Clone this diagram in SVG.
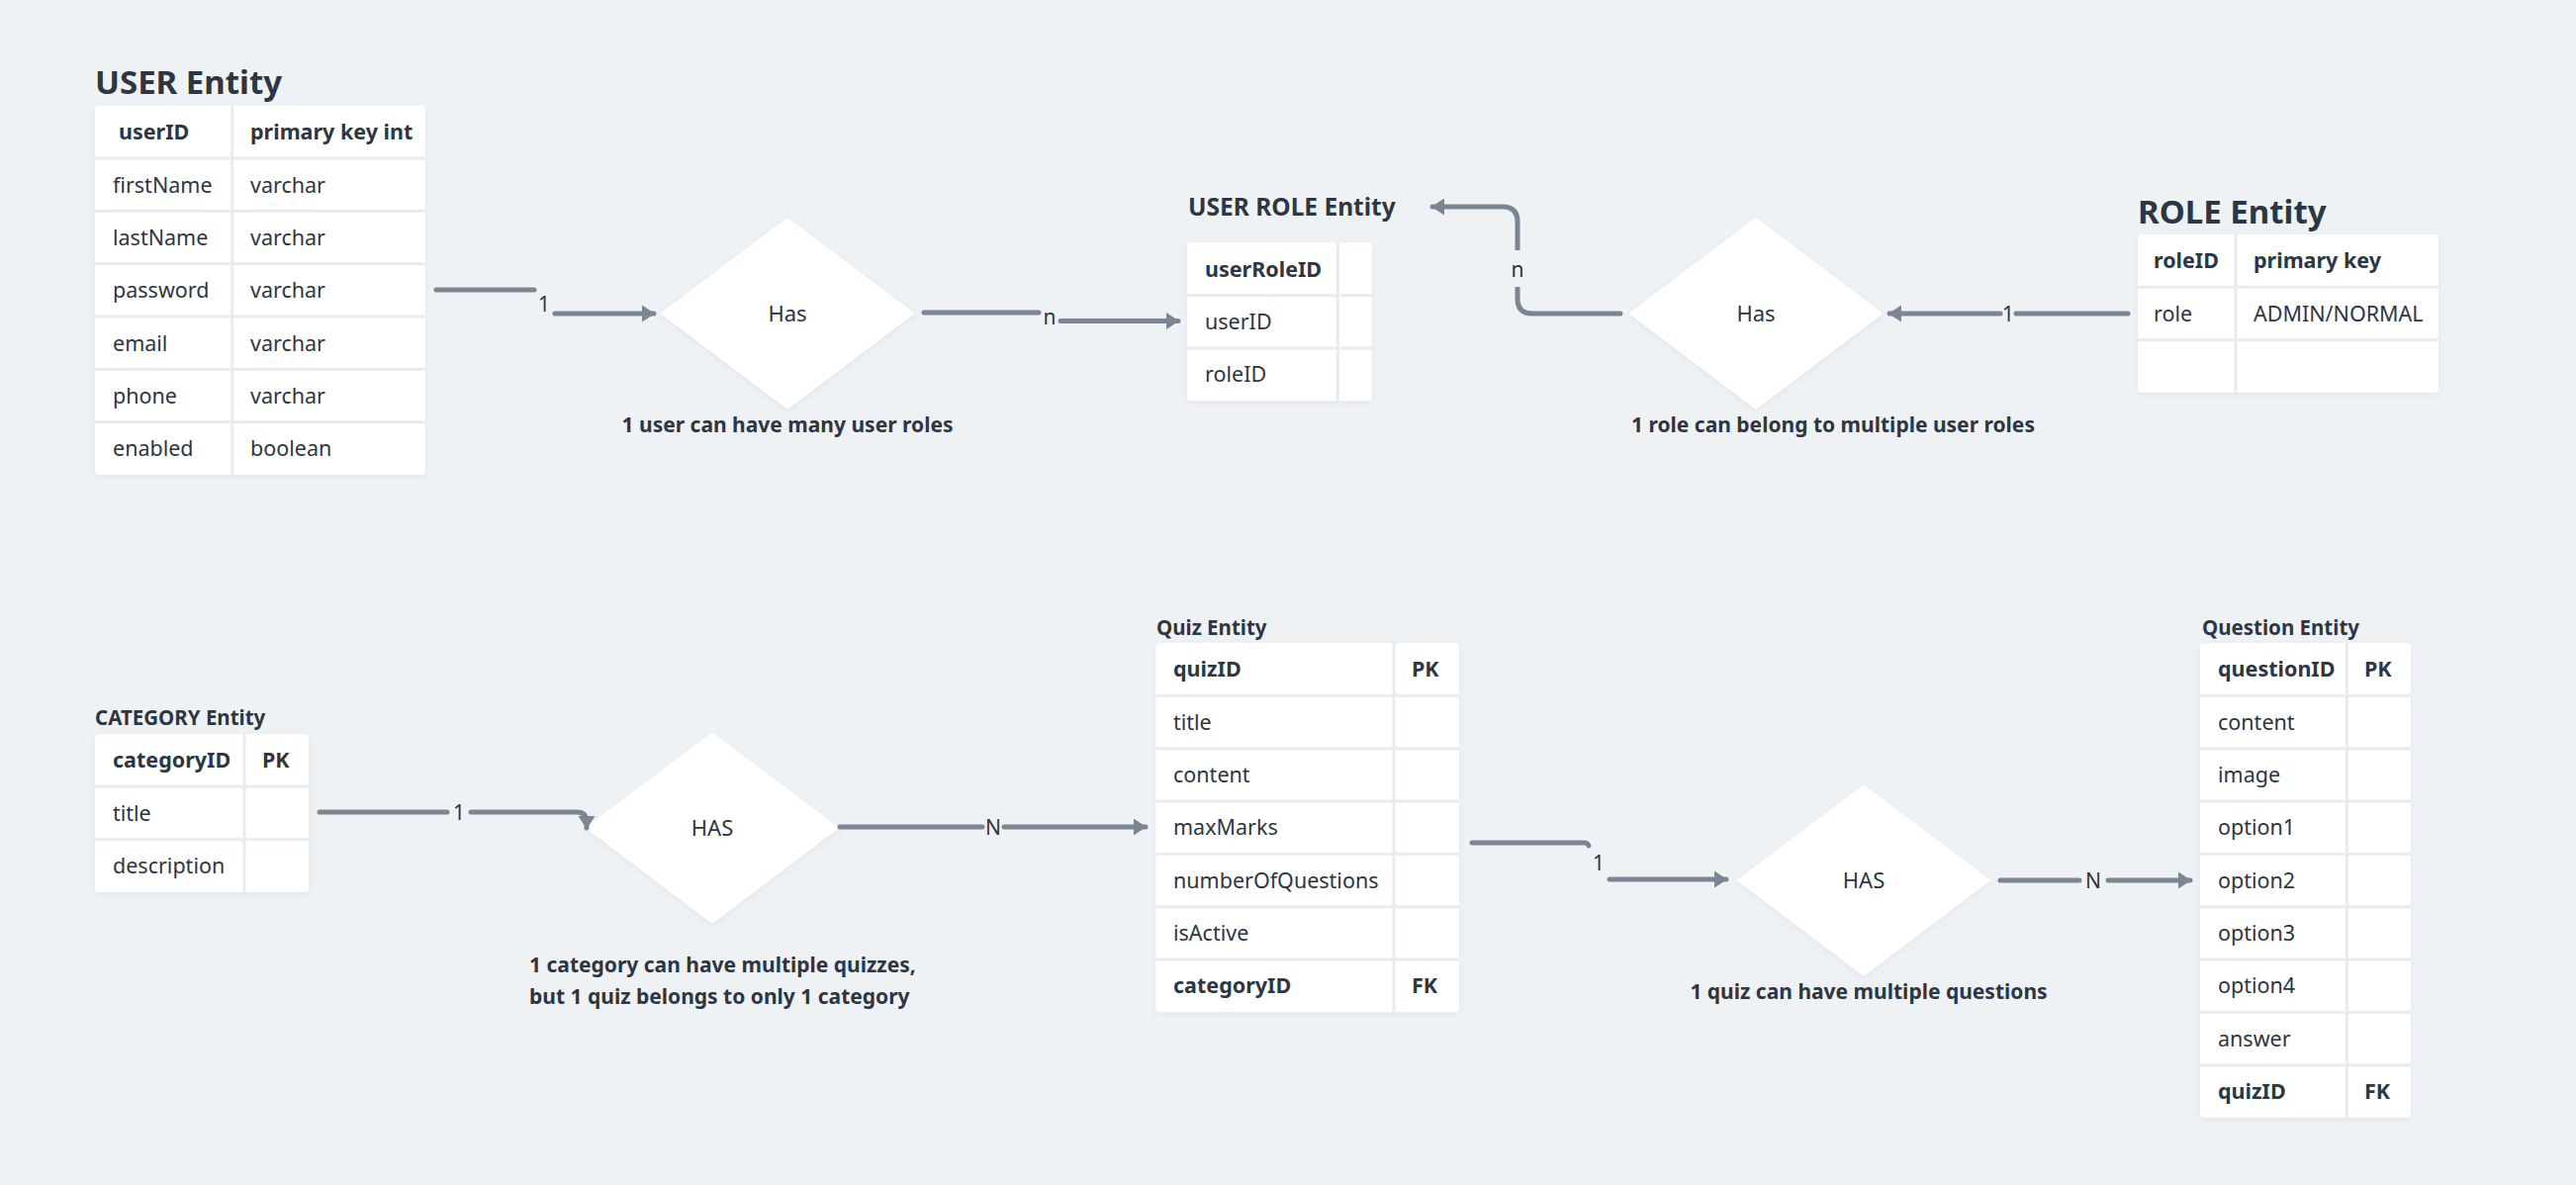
<svg xmlns="http://www.w3.org/2000/svg" width="2604" height="1198" viewBox="0 0 2604 1198">
<defs>
<style>
.bg{fill:#eff2f5}
.tbl{fill:#ffffff;filter:url(#sh)}
.grid{stroke:#e8ebef;stroke-width:3;fill:none}
.t{font-family:"Noto Sans","Liberation Sans",sans-serif;font-size:21.5px;fill:#2d3642}
.b{font-weight:700}
.title{font-family:"Noto Sans","Liberation Sans",sans-serif;font-weight:700;fill:#2d3642}
.cap{font-family:"Noto Sans","Liberation Sans",sans-serif;font-weight:700;font-size:21px;fill:#2d3642}
.dia{fill:#ffffff;stroke:#ffffff;stroke-width:3;stroke-linejoin:round;filter:url(#sh)}
.dt{font-family:"Noto Sans","Liberation Sans",sans-serif;font-size:22px;fill:#2d3642;text-anchor:middle}
.conn{fill:none;stroke:#7b8694;stroke-width:5;stroke-linecap:round;stroke-linejoin:round;marker-end:url(#arr)}
.lbg{fill:#eff2f5}
.lbl{font-family:"Noto Sans","Liberation Sans",sans-serif;font-size:21px;fill:#2d3642;text-anchor:middle}
</style>
<filter id="sh" x="-10%" y="-10%" width="120%" height="125%">
<feDropShadow dx="0" dy="2" stdDeviation="2.5" flood-color="#5a6a80" flood-opacity="0.10"/>
</filter>
<marker id="arr" viewBox="0 0 13 17" refX="12" refY="8.5" markerWidth="13" markerHeight="17" markerUnits="userSpaceOnUse" orient="auto">
<path d="M0,0 L13,8.5 L0,17 z" fill="#7b8694"/>
</marker>
</defs>
<rect class="bg" x="0" y="0" width="2604" height="1198"/>

<g id="user-entity">
<text class="title" x="96" y="95" font-size="33">USER Entity</text>
<rect class="tbl" x="96" y="106.7" width="334" height="373.3" rx="4"/>
<path class="grid" d="M234.7 106.7V480M96 160H430M96 213.3H430M96 266.7H430M96 320H430M96 373.3H430M96 426.7H430"/>
<text class="t b" x="120" y="141">userID</text><text class="t b" x="253" y="141">primary key int</text>
<text class="t" x="114" y="194.5">firstName</text><text class="t" x="253" y="194.5">varchar</text>
<text class="t" x="114" y="248">lastName</text><text class="t" x="253" y="248">varchar</text>
<text class="t" x="114" y="301">password</text><text class="t" x="253" y="301">varchar</text>
<text class="t" x="114" y="354.5">email</text><text class="t" x="253" y="354.5">varchar</text>
<text class="t" x="114" y="408">phone</text><text class="t" x="253" y="408">varchar</text>
<text class="t" x="114" y="461">enabled</text><text class="t" x="253" y="461">boolean</text>
</g>

<g id="has-user-role">
<polygon class="dia" points="670,317 796,222 922,317 796,412"/>
<text class="dt" x="796" y="325">Has</text>
<text class="cap" x="796" y="437" text-anchor="middle">1 user can have many user roles</text>
</g>

<g id="user-role-entity">
<text class="title" x="1201" y="218" font-size="24.5">USER ROLE Entity</text>
<rect class="tbl" x="1200" y="245.3" width="186.7" height="160" rx="4"/>
<path class="grid" d="M1352.3 245.3V405.3M1200 298.7H1386.7M1200 352H1386.7"/>
<text class="t b" x="1218" y="279.5">userRoleID</text>
<text class="t" x="1218" y="333">userID</text>
<text class="t" x="1218" y="386">roleID</text>
</g>

<g id="has-role">
<polygon class="dia" points="1649,317 1775,222 1901,317 1775,412"/>
<text class="dt" x="1775" y="325">Has</text>
<text class="cap" x="1649" y="437">1 role can belong to multiple user roles</text>
</g>

<g id="role-entity">
<text class="title" x="2161" y="226" font-size="33">ROLE Entity</text>
<rect class="tbl" x="2161" y="237" width="304" height="160" rx="4"/>
<path class="grid" d="M2260 237V397M2161 290.3H2465M2161 343.7H2465"/>
<text class="t b" x="2177" y="271">roleID</text><text class="t b" x="2278" y="271">primary key</text>
<text class="t" x="2177" y="324.5">role</text><text class="t" x="2278" y="324.5">ADMIN/NORMAL</text>
</g>

<g id="category-entity">
<text class="title" x="96" y="733" font-size="20.5">CATEGORY Entity</text>
<rect class="tbl" x="96" y="742" width="216" height="160" rx="4"/>
<path class="grid" d="M247 742V902M96 795.3H312M96 848.7H312"/>
<text class="t b" x="114" y="776">categoryID</text><text class="t b" x="265" y="776">PK</text>
<text class="t" x="114" y="829.5">title</text>
<text class="t" x="114" y="883">description</text>
</g>

<g id="has-quiz">
<polygon class="dia" points="594,837 720,742 846,837 720,932"/>
<text class="dt" x="720" y="845">HAS</text>
<text class="cap" x="535" y="983">1 category can have multiple quizzes,</text>
<text class="cap" x="535" y="1015">but 1 quiz belongs to only 1 category</text>
</g>

<g id="quiz-entity">
<text class="title" x="1169" y="642" font-size="20.5">Quiz Entity</text>
<rect class="tbl" x="1168.5" y="650" width="306.5" height="373.3" rx="4"/>
<path class="grid" d="M1409 650V1023.3M1168.5 703.3H1475M1168.5 756.7H1475M1168.5 810H1475M1168.5 863.3H1475M1168.5 916.7H1475M1168.5 970H1475"/>
<text class="t b" x="1186" y="684">quizID</text><text class="t b" x="1427" y="684">PK</text>
<text class="t" x="1186" y="737.5">title</text>
<text class="t" x="1186" y="791">content</text>
<text class="t" x="1186" y="844">maxMarks</text>
<text class="t" x="1186" y="897.5">numberOfQuestions</text>
<text class="t" x="1186" y="951">isActive</text>
<text class="t b" x="1186" y="1004">categoryID</text><text class="t b" x="1427" y="1004">FK</text>
</g>

<g id="has-question">
<polygon class="dia" points="1758,890 1884,795 2010,890 1884,985"/>
<text class="dt" x="1884" y="898">HAS</text>
<text class="cap" x="1889" y="1010" text-anchor="middle">1 quiz can have multiple questions</text>
</g>

<g id="question-entity">
<text class="title" x="2226" y="642" font-size="20.5">Question Entity</text>
<rect class="tbl" x="2224" y="650" width="213" height="480" rx="4"/>
<path class="grid" d="M2372.5 650V1130M2224 703.3H2437M2224 756.7H2437M2224 810H2437M2224 863.3H2437M2224 916.7H2437M2224 970H2437M2224 1023.3H2437M2224 1076.7H2437"/>
<text class="t b" x="2242" y="684">questionID</text><text class="t b" x="2390" y="684">PK</text>
<text class="t" x="2242" y="737.5">content</text>
<text class="t" x="2242" y="791">image</text>
<text class="t" x="2242" y="844">option1</text>
<text class="t" x="2242" y="897.5">option2</text>
<text class="t" x="2242" y="951">option3</text>
<text class="t" x="2242" y="1004">option4</text>
<text class="t" x="2242" y="1057.5">answer</text>
<text class="t b" x="2242" y="1111">quizID</text><text class="t b" x="2390" y="1111">FK</text>
</g>

<g id="connectors">
<path class="conn" d="M441 293H540M561 317H661"/>
<text class="lbl" x="550" y="315">1</text>

<path class="conn" d="M934 316H1050M1072 324.5H1191"/>
<text class="lbl" x="1061" y="328">n</text>

<path class="conn" d="M1638 317H1549Q1534 317 1534 302V224Q1534 209 1519 209H1448"/>
<rect class="lbg" x="1522" y="253" width="24" height="37"/>
<text class="lbl" x="1534" y="280">n</text>

<path class="conn" d="M2151 317H2038M2022 317H1910"/>
<text class="lbl" x="2030" y="324.5">1</text>

<path class="conn" d="M323 821H452M476 821H583Q593 821 593 831V837"/>
<text class="lbl" x="464" y="829">1</text>

<path class="conn" d="M849 836H993M1015 836H1158"/>
<text class="lbl" x="1004" y="843.5">N</text>

<path class="conn" d="M1488 852H1601Q1605 852 1606 855M1627 889H1745"/>
<text class="lbl" x="1616" y="880">1</text>

<path class="conn" d="M2022 890H2102M2131 890H2214"/>
<text class="lbl" x="2116" y="897.5">N</text>
</g>
</svg>
